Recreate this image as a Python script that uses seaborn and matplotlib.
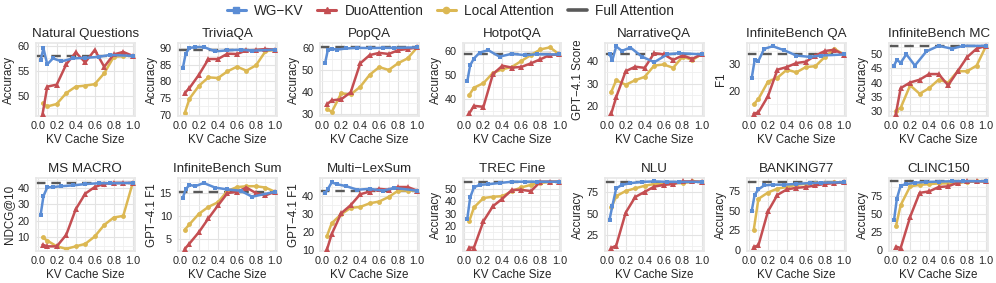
import matplotlib
matplotlib.use("Agg")
import matplotlib.pyplot as plt
from matplotlib.lines import Line2D
from matplotlib.ticker import MultipleLocator
import seaborn as sns

# KV cache budgets (fraction of full cache)
wg_x = [0.03, 0.06, 0.1, 0.16, 0.25, 0.37, 0.5, 0.64, 0.76, 1.0]
base_x = [0.05, 0.1, 0.2, 0.3, 0.4, 0.5, 0.6, 0.7, 0.8, 0.9, 1.0]

titles = ["Natural Questions", "TriviaQA", "PopQA", "HotpotQA", "NarrativeQA",
          "InfiniteBench QA", "InfiniteBench MC", "MS MACRO", "InfiniteBench Sum",
          "Multi\u2212LexSum", "TREC Fine", "NLU", "BANKING77", "CLINC150"]
ylabels = ["Accuracy", "Accuracy", "Accuracy", "Accuracy", "GPT\u22124.1 Score",
           "F1", "Accuracy", "NDCG@10", "GPT\u22124.1 F1", "GPT\u22124.1 F1",
           "Accuracy", "Accuracy", "Accuracy", "Accuracy"]

# per dataset: WG-KV, DuoAttention, Local Attention, Full Attention
nq_wg = [57.2, 59.5, 56.3, 57.5, 56.9, 57.5, 57.6, 57.8, 58.2, 58.0]
nq_duo = [46.2, 51.8, 52.2, 56.3, 58.7, 56.7, 59.2, 55.8, 58.3, 58.8, 58.0]
nq_local = [48.4, 47.8, 48.3, 50.5, 51.8, 52.0, 52.3, 54.5, 57.8, 58.0, 58.0]
nq_full = 58.0

tqa_wg = [84.0, 88.3, 90.0, 90.3, 90.3, 89.0, 89.3, 89.5, 89.2, 89.5]
tqa_duo = [76.5, 78.0, 82.0, 86.7, 86.7, 88.3, 88.2, 89.3, 89.4, 89.7, 89.5]
tqa_local = [70.5, 74.8, 78.7, 81.2, 81.0, 83.0, 84.4, 83.2, 84.8, 89.0, 89.5]
tqa_full = 89.5

pop_wg = [53.3, 59.5, 59.8, 59.5, 60.0, 60.3, 60.2, 60.3, 60.3, 60.5]
pop_duo = [34.5, 36.3, 36.8, 40.0, 53.2, 57.0, 58.0, 57.5, 59.2, 59.8, 60.5]
pop_local = [32.5, 31.0, 39.5, 39.0, 42.5, 48.0, 51.5, 50.2, 53.3, 55.5, 60.5]
pop_full = 60.5

hot_wg = [47.5, 54.2, 57.0, 59.5, 60.5, 57.8, 59.0, 58.4, 58.8, 58.7]
hot_duo = [34.0, 37.2, 36.8, 50.5, 54.0, 53.2, 53.5, 55.0, 56.7, 58.5, 58.7]
hot_local = [41.7, 44.8, 46.7, 51.0, 52.5, 53.5, 56.0, 58.5, 60.8, 61.7, 58.7]
hot_full = 58.7

nar_wg = [43.0, 40.5, 46.5, 44.5, 46.0, 42.0, 39.5, 43.0, 43.5, 43.0]
nar_duo = [17.0, 24.0, 35.5, 37.5, 37.0, 43.5, 43.0, 40.5, 42.5, 41.0, 43.0]
nar_local = [26.5, 31.5, 29.5, 31.5, 33.0, 38.0, 38.5, 37.0, 42.0, 40.5, 43.0]
nar_full = 43.0

ibqa_wg = [25.0, 31.5, 31.3, 35.8, 36.8, 35.3, 33.3, 32.8, 33.3, 33.7]
ibqa_duo = [11.5, 12.0, 18.0, 28.0, 29.0, 30.5, 31.0, 33.3, 35.0, 35.5, 33.5]
ibqa_local = [15.0, 17.0, 23.5, 25.0, 28.0, 27.0, 29.0, 29.3, 32.8, 35.8, 33.7]
ibqa_full = 33.7

ibmc_wg = [46.0, 48.0, 47.0, 50.0, 46.0, 51.0, 53.0, 52.0, 53.0, 53.0]
ibmc_duo = [29.0, 38.0, 40.0, 41.0, 43.0, 43.0, 39.0, 44.0, 49.0, 52.0, 53.0]
ibmc_local = [30.0, 31.0, 39.0, 36.0, 38.0, 41.0, 40.0, 44.0, 44.0, 46.0, 53.0]
ibmc_full = 53.0

msm_wg = [23.5, 35.0, 40.3, 40.5, 41.0, 41.5, 42.3, 42.8, 42.8, 43.0]
msm_duo = [5.5, 4.5, 4.5, 11.5, 27.0, 36.5, 40.5, 42.5, 43.0, 43.0, 43.0]
msm_local = [10.0, 8.0, 4.5, 3.0, 4.5, 6.0, 10.5, 17.5, 22.0, 23.0, 43.0]
msm_full = 43.0

ibs_wg = [14.0, 15.8, 16.8, 16.5, 17.2, 16.2, 15.8, 15.5, 14.2, 15.3]
ibs_duo = [2.8, 4.0, 6.5, 9.5, 12.3, 15.0, 15.3, 16.2, 15.0, 14.5, 15.3]
ibs_local = [7.0, 8.2, 10.5, 12.0, 13.0, 15.5, 16.3, 16.5, 16.5, 16.2, 15.3]
ibs_full = 15.3

lex_wg = [41.5, 44.0, 47.5, 46.5, 45.5, 43.5, 44.0, 43.0, 44.5, 43.0]
lex_duo = [10.5, 19.0, 30.5, 35.0, 41.0, 42.5, 44.0, 43.5, 45.0, 45.0, 43.0]
lex_local = [18.0, 25.0, 30.0, 33.5, 34.0, 36.0, 37.0, 39.5, 43.0, 43.0, 43.0]
lex_full = 43.0

trec_wg = [26.0, 43.0, 51.0, 53.0, 53.5, 54.5, 55.5, 55.5, 55.5, 55.5]
trec_duo = [3.0, 3.0, 24.0, 36.0, 42.0, 49.0, 49.0, 48.0, 55.5, 55.5, 55.5]
trec_local = [24.0, 35.0, 42.5, 43.5, 44.0, 48.0, 51.0, 53.0, 54.5, 55.5, 55.5]
trec_full = 55.5

nlu_wg = [43.0, 59.0, 79.0, 83.0, 85.0, 86.5, 87.0, 86.5, 86.5, 86.5]
nlu_duo = [10.5, 13.0, 51.0, 69.0, 75.0, 81.0, 83.0, 84.0, 87.0, 87.0, 86.5]
nlu_local = [57.0, 70.0, 76.0, 79.0, 82.0, 84.0, 84.0, 85.0, 85.0, 87.0, 86.5]
nlu_full = 86.0

bank_wg = [50.0, 70.0, 77.0, 82.0, 83.0, 83.0, 84.0, 85.0, 85.5, 86.0]
bank_duo = [4.0, 6.0, 49.0, 70.0, 77.0, 79.0, 80.0, 82.0, 84.0, 85.0, 86.0]
bank_local = [25.0, 65.0, 73.0, 78.0, 80.0, 83.0, 84.0, 85.0, 85.0, 86.0, 86.0]
bank_full = 87.0

clinc_wg = [41.0, 71.0, 89.0, 91.0, 93.0, 94.0, 94.5, 95.0, 95.0, 95.0]
clinc_duo = [5.0, 3.0, 46.0, 79.0, 81.0, 87.0, 88.0, 93.0, 95.0, 95.0, 95.0]
clinc_local = [33.0, 62.0, 88.0, 90.0, 91.0, 92.0, 92.0, 93.0, 94.0, 95.0, 95.0]
clinc_full = 95.0

panels = [
    (nq_wg, nq_duo, nq_local, nq_full),
    (tqa_wg, tqa_duo, tqa_local, tqa_full),
    (pop_wg, pop_duo, pop_local, pop_full),
    (hot_wg, hot_duo, hot_local, hot_full),
    (nar_wg, nar_duo, nar_local, nar_full),
    (ibqa_wg, ibqa_duo, ibqa_local, ibqa_full),
    (ibmc_wg, ibmc_duo, ibmc_local, ibmc_full),
    (msm_wg, msm_duo, msm_local, msm_full),
    (ibs_wg, ibs_duo, ibs_local, ibs_full),
    (lex_wg, lex_duo, lex_local, lex_full),
    (trec_wg, trec_duo, trec_local, trec_full),
    (nlu_wg, nlu_duo, nlu_local, nlu_full),
    (bank_wg, bank_duo, bank_local, bank_full),
    (clinc_wg, clinc_duo, clinc_local, clinc_full),
]

ylims = [(45.8, 60.6), (69.5, 91.5), (29, 62.5), (32.8, 63.5), (15.5, 48),
         (10.5, 38), (28, 54), (1.5, 46), (2.3, 18.3), (9.5, 50),
         (0, 58.5), (6.5, 91), (-1.5, 91.5), (-1.5, 99.5)]
yticks = [[50, 55, 60], [70, 75, 80, 85, 90], [30, 40, 50, 60], [40, 50, 60],
          [20, 30, 40], [20, 30], [30, 35, 40, 45, 50], [10, 20, 30, 40],
          [5, 10, 15], [10, 20, 30, 40], [10, 20, 30, 40, 50], [25, 50, 75],
          [0, 25, 50, 75], [0, 25, 50, 75]]

c_wg = "#5b8dd5"
c_duo = "#c44e52"
c_local = "#dcb853"
c_full = "#595959"

sns.set_theme(style="whitegrid")
plt.rcParams["font.family"] = ["Liberation Sans", "DejaVu Sans"]

fig, axes = plt.subplots(2, 7, figsize=(9.96, 2.83), dpi=100)
fig.subplots_adjust(left=0.036, right=0.992, top=0.848, bottom=0.112,
                    wspace=0.44, hspace=0.84)

for i, ax in enumerate(axes.flat):
    wg, duo, local, full = panels[i]
    ax.axhline(full, color=c_full, lw=1.7, ls=(0, (4, 2.5)), zorder=1)
    sns.lineplot(x=base_x, y=local, ax=ax, color=c_local, marker="o",
                 markersize=3.5, markeredgewidth=0, lw=1.8, zorder=2)
    sns.lineplot(x=base_x, y=duo, ax=ax, color=c_duo, marker="^",
                 markersize=4, markeredgewidth=0, lw=1.8, zorder=3)
    sns.lineplot(x=wg_x, y=wg, ax=ax, color=c_wg, marker="s",
                 markersize=3.5, markeredgewidth=0, lw=1.8, zorder=4)
    ax.set_xlim(-0.02, 1.02)
    ax.set_ylim(*ylims[i])
    ax.set_xticks([0.0, 0.2, 0.4, 0.6, 0.8, 1.0])
    ax.xaxis.set_minor_locator(MultipleLocator(0.1))
    ax.set_yticks(yticks[i])
    step = yticks[i][1] - yticks[i][0]
    ax.yaxis.set_minor_locator(MultipleLocator(step / 2))
    ax.grid(which="minor", color="#efefef", lw=0.6)
    ax.grid(which="major", color="#e3e3e3", lw=0.8)
    ax.tick_params(axis="x", which="major", labelsize=7.8, pad=3.5, length=0)
    ax.tick_params(axis="y", which="major", labelsize=7.8, pad=4.5, length=0)
    ax.tick_params(which="minor", length=0)
    ax.set_title(titles[i], fontsize=9.6, pad=4)
    ax.set_xlabel("KV Cache Size", fontsize=8.4, labelpad=2)
    ax.set_ylabel(ylabels[i], fontsize=8.4, labelpad=1.5)
    for s in ax.spines.values():
        s.set_color("#e8e8e8")

handles = [
    Line2D([], [], color=c_wg, marker="s", lw=2.2, markersize=4.5),
    Line2D([], [], color=c_duo, marker="^", lw=2.2, markersize=5),
    Line2D([], [], color=c_local, marker="o", lw=2.2, markersize=4.5),
    Line2D([], [], color=c_full, lw=2.6),
]
fig.legend(handles, ["WG\u2212KV", "DuoAttention", "Local Attention", "Full Attention"],
           loc="upper center", bbox_to_anchor=(0.452, 1.03), ncol=4,
           frameon=False, fontsize=9.8, handlelength=1.4, columnspacing=1.0,
           handletextpad=0.6)

fig.savefig("out.png", dpi=100)
